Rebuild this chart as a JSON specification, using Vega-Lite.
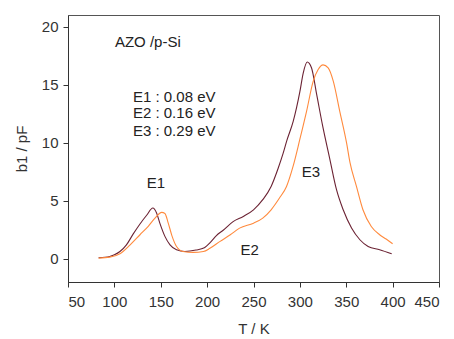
{
  "$schema": "https://vega.github.io/schema/vega-lite/v6.json",
  "width": 371,
  "height": 267,
  "autosize": "none",
  "padding": {"left": 68, "top": 15, "right": 15, "bottom": 57},
  "background": "white",
  "config": {
    "font": "Liberation Sans",
    "view": {"stroke": "#555", "strokeWidth": 1},
    "axis": {
      "grid": false,
      "domainColor": "#333",
      "tickColor": "#333",
      "labelColor": "#333",
      "titleColor": "#333",
      "labelFont": "Liberation Sans",
      "titleFont": "Liberation Sans",
      "labelFontSize": 15,
      "titleFontSize": 15,
      "titleFontWeight": "normal",
      "tickSize": 5
    }
  },
  "datasets": {
    "curves": [
      {"T": 83, "b": 0.09, "s": "dark"},
      {"T": 95, "b": 0.2, "s": "dark"},
      {"T": 100, "b": 0.35, "s": "dark"},
      {"T": 106, "b": 0.63, "s": "dark"},
      {"T": 113, "b": 1.2, "s": "dark"},
      {"T": 120, "b": 2.1, "s": "dark"},
      {"T": 127.6, "b": 3.0, "s": "dark"},
      {"T": 134.8, "b": 3.75, "s": "dark"},
      {"T": 141.5, "b": 4.37, "s": "dark"},
      {"T": 145.5, "b": 3.94, "s": "dark"},
      {"T": 149, "b": 3.07, "s": "dark"},
      {"T": 154.5, "b": 1.93, "s": "dark"},
      {"T": 160, "b": 1.2, "s": "dark"},
      {"T": 167, "b": 0.78, "s": "dark"},
      {"T": 176, "b": 0.63, "s": "dark"},
      {"T": 188, "b": 0.75, "s": "dark"},
      {"T": 197, "b": 0.95, "s": "dark"},
      {"T": 204, "b": 1.45, "s": "dark"},
      {"T": 210, "b": 2.0, "s": "dark"},
      {"T": 217, "b": 2.44, "s": "dark"},
      {"T": 228, "b": 3.2, "s": "dark"},
      {"T": 239, "b": 3.65, "s": "dark"},
      {"T": 250, "b": 4.22, "s": "dark"},
      {"T": 260, "b": 5.09, "s": "dark"},
      {"T": 269, "b": 6.23, "s": "dark"},
      {"T": 276.6, "b": 7.8, "s": "dark"},
      {"T": 282, "b": 9.1, "s": "dark"},
      {"T": 286, "b": 10.2, "s": "dark"},
      {"T": 292.8, "b": 11.84, "s": "dark"},
      {"T": 300, "b": 14.4, "s": "dark"},
      {"T": 303.6, "b": 16.0, "s": "dark"},
      {"T": 307.9, "b": 16.95, "s": "dark"},
      {"T": 312.6, "b": 16.44, "s": "dark"},
      {"T": 318, "b": 14.2, "s": "dark"},
      {"T": 325, "b": 11.27, "s": "dark"},
      {"T": 332, "b": 8.7, "s": "dark"},
      {"T": 339.5, "b": 5.95, "s": "dark"},
      {"T": 346.7, "b": 4.22, "s": "dark"},
      {"T": 355.7, "b": 2.65, "s": "dark"},
      {"T": 364.7, "b": 1.64, "s": "dark"},
      {"T": 373.6, "b": 1.06, "s": "dark"},
      {"T": 386, "b": 0.78, "s": "dark"},
      {"T": 399, "b": 0.43, "s": "dark"},
      {"T": 83, "b": 0.06, "s": "orange"},
      {"T": 95, "b": 0.14, "s": "orange"},
      {"T": 106, "b": 0.43, "s": "orange"},
      {"T": 117, "b": 1.2, "s": "orange"},
      {"T": 127.6, "b": 2.07, "s": "orange"},
      {"T": 136.5, "b": 2.8, "s": "orange"},
      {"T": 143.8, "b": 3.5, "s": "orange"},
      {"T": 151, "b": 4.0, "s": "orange"},
      {"T": 154.5, "b": 3.9, "s": "orange"},
      {"T": 158, "b": 3.1, "s": "orange"},
      {"T": 162, "b": 2.0, "s": "orange"},
      {"T": 167, "b": 1.06, "s": "orange"},
      {"T": 174, "b": 0.63, "s": "orange"},
      {"T": 185, "b": 0.55, "s": "orange"},
      {"T": 196, "b": 0.63, "s": "orange"},
      {"T": 203, "b": 0.9, "s": "orange"},
      {"T": 214, "b": 1.5, "s": "orange"},
      {"T": 225, "b": 2.07, "s": "orange"},
      {"T": 235, "b": 2.64, "s": "orange"},
      {"T": 250, "b": 3.07, "s": "orange"},
      {"T": 260, "b": 3.5, "s": "orange"},
      {"T": 269, "b": 4.22, "s": "orange"},
      {"T": 278, "b": 5.23, "s": "orange"},
      {"T": 285.6, "b": 6.23, "s": "orange"},
      {"T": 292.8, "b": 8.0, "s": "orange"},
      {"T": 300, "b": 10.3, "s": "orange"},
      {"T": 307.2, "b": 12.7, "s": "orange"},
      {"T": 314.4, "b": 15.3, "s": "orange"},
      {"T": 319.7, "b": 16.3, "s": "orange"},
      {"T": 325, "b": 16.7, "s": "orange"},
      {"T": 330.5, "b": 16.44, "s": "orange"},
      {"T": 336, "b": 15.3, "s": "orange"},
      {"T": 343, "b": 12.7, "s": "orange"},
      {"T": 350.3, "b": 10.0, "s": "orange"},
      {"T": 354, "b": 8.3, "s": "orange"},
      {"T": 361, "b": 6.23, "s": "orange"},
      {"T": 368, "b": 4.22, "s": "orange"},
      {"T": 377, "b": 2.78, "s": "orange"},
      {"T": 386, "b": 2.07, "s": "orange"},
      {"T": 393, "b": 1.7, "s": "orange"},
      {"T": 400, "b": 1.3, "s": "orange"}
    ],
    "notes": [
      {"T": 100.6, "b": 18.7, "label": "AZO /p-Si"},
      {"T": 120, "b": 13.97, "label": "E1 : 0.08 eV"},
      {"T": 120, "b": 12.55, "label": "E2 : 0.16 eV"},
      {"T": 120, "b": 11.05, "label": "E3 : 0.29 eV"}
    ],
    "peaks": [
      {"T": 144.8, "b": 6.55, "label": "E1"},
      {"T": 246, "b": 0.78, "label": "E2"},
      {"T": 312, "b": 7.5, "label": "E3"}
    ]
  },
  "layer": [
    {
      "data": {"name": "curves"},
      "mark": {"type": "line", "strokeWidth": 1.1, "interpolate": "monotone"},
      "encoding": {
        "x": {
          "field": "T", "type": "quantitative",
          "scale": {"domain": [50, 450], "nice": false},
          "axis": {"values": [50, 100, 150, 200, 250, 300, 350, 400, 450], "title": "T / K", "labelPadding": 7, "titlePadding": 12}
        },
        "y": {
          "field": "b", "type": "quantitative",
          "scale": {"domain": [-2, 21], "nice": false, "zero": false},
          "axis": {"values": [0, 5, 10, 15, 20], "title": "b1 / pF", "labelPadding": 5, "titlePadding": 12}
        },
        "color": {
          "field": "s", "type": "nominal",
          "scale": {"domain": ["dark", "orange"], "range": ["#6b2233", "#ff8a3d"]},
          "legend": null
        }
      }
    },
    {
      "data": {"name": "notes"},
      "mark": {"type": "text", "align": "left", "baseline": "middle", "fontSize": 15, "color": "#222"},
      "encoding": {
        "x": {"field": "T", "type": "quantitative"},
        "y": {"field": "b", "type": "quantitative"},
        "text": {"field": "label"}
      }
    },
    {
      "data": {"name": "peaks"},
      "mark": {"type": "text", "align": "center", "baseline": "middle", "fontSize": 15, "color": "#222"},
      "encoding": {
        "x": {"field": "T", "type": "quantitative"},
        "y": {"field": "b", "type": "quantitative"},
        "text": {"field": "label"}
      }
    }
  ]
}
